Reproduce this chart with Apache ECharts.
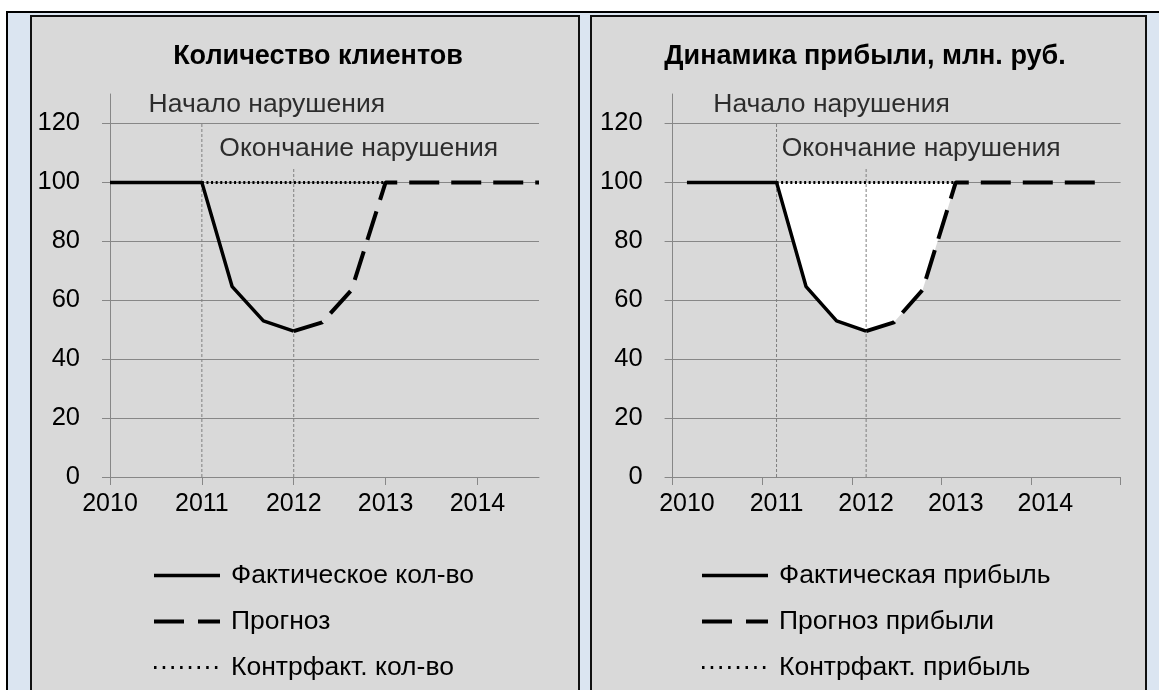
<!DOCTYPE html>
<html><head><meta charset="utf-8">
<script src="https://cdn.jsdelivr.net/npm/echarts@6/dist/echarts.min.js"></script>
<style>html,body{margin:0;padding:0;background:#fff}#c{width:1159px;height:690px}</style>
</head><body><div id="c"></div>
<script>
// ---- data ----
const titles = ['Количество клиентов', 'Динамика прибыли, млн. руб.'];
const yTicks = [0, 20, 40, 60, 80, 100, 120];
const xTickLabels = [2010, 2011, 2012, 2013, 2014];
const actualX = [2010, 2011, 2011.33, 2011.67, 2012];
const actualY = [100, 100, 64.6, 53, 49.5];
const forecastX = [2012, 2012.31, 2012.63, 2013, 2014.67];
const forecastY = [49.5, 52.5, 63.5, 100, 100];
const counterX = [2011, 2013];
const counterY = [100, 100];
const markerX = [2011, 2012];
const markerTop = [120, 105];
const markerLabels = ['Начало нарушения', 'Окончание нарушения'];
const legendLeft = ['Фактическое кол-во', 'Прогноз', 'Контрфакт. кол-во'];
const legendRight = ['Фактическая прибыль', 'Прогноз прибыли', 'Контрфакт. прибыль'];

// ---- helpers ----
const FONT = "'Liberation Sans', Arial, sans-serif";
const GRID_C = '#878787';
const NONE = 'rgba(0,0,0,0)';
const zip = (xs, ys) => xs.map((x, i) => [x, ys[i]]);
const actualPts = zip(actualX, actualY);
const forecastPts = zip(forecastX, forecastY);
const counterPts = zip(counterX, counterY);
const gapPts = actualPts.filter(p => p[0] >= counterX[0])
  .concat(forecastPts.filter(p => p[0] > actualX[actualX.length - 1] && p[0] <= counterX[1]));

const rightShift = 0.16; // right chart ticks sit between labels
const xAxisCfg = [
  { min: 2010, max: 2014.67, ticks: xTickLabels },
  { min: 2010 - rightShift, max: 2015 - rightShift,
    ticks: xTickLabels.map(v => +(v - rightShift).toFixed(2)).concat([+(2015 - rightShift).toFixed(2)]) }
];
const gridsPos = [
  { left: 110, top: 94, width: 429, height: 383 },
  { left: 672.6, top: 94, width: 448, height: 383 }
];
const labelOffsetX = [65, 55];
const legendPos = [152, 700];
const titleX = [318, 865];

const chart = echarts.init(document.getElementById('c'), null, { renderer: 'canvas' });

const grids = [], xAxes = [], yAxes = [], series = [], legends = [], titleArr = [];
[0, 1].forEach(i => {
  grids.push(Object.assign({ containLabel: false, outerBoundsMode: 'none' }, gridsPos[i]));
  xAxes.push({
    type: 'value', gridIndex: i, min: xAxisCfg[i].min, max: xAxisCfg[i].max,
    axisLine: { show: true, onZero: false, lineStyle: { color: GRID_C, width: 1 } },
    axisTick: { show: true, length: 8, lineStyle: { color: GRID_C }, customValues: xAxisCfg[i].ticks },
    axisLabel: { customValues: xTickLabels, formatter: v => String(v), color: '#000',
      fontSize: 25, fontFamily: FONT, margin: 15 },
    splitLine: { show: false }
  });
  yAxes.push({
    type: 'value', gridIndex: i, min: 0, max: 130,
    axisLine: { show: true, lineStyle: { color: GRID_C, width: 1 } },
    axisTick: { show: true, length: 8, lineStyle: { color: GRID_C }, customValues: yTicks },
    axisLabel: { customValues: yTicks, color: '#000', fontSize: 25.5, fontFamily: FONT, margin: 30 },
    splitLine: { show: true, lineStyle: { color: GRID_C, width: 1 } }
  });
  const names = i === 0 ? legendLeft : legendRight;
  if (i === 1) {
    series.push({
      type: 'line', xAxisIndex: i, yAxisIndex: i, data: gapPts, symbol: 'none', silent: true,
      lineStyle: { width: 0, opacity: 0 },
      areaStyle: { color: '#ffffff', opacity: 1, origin: counterY[0] }, z: 2
    });
  }
  markerX.forEach((mx, k) => {
    series.push({
      type: 'line', xAxisIndex: i, yAxisIndex: i, data: [[mx, 0], [mx, markerTop[k]]],
      symbol: 'none', silent: true, z: 3,
      lineStyle: { color: '#7f7f7f', width: 1, type: [3, 2] }
    });
    series.push({
      type: 'scatter', xAxisIndex: i, yAxisIndex: i, data: [[mx, markerTop[k]]],
      symbolSize: 0, silent: true, z: 6,
      label: { show: true, position: 'top', distance: 4, offset: [labelOffsetX[i], -1],
        formatter: markerLabels[k], color: '#000', fontSize: 26.5, fontFamily: FONT }
    });
  });
  series.push({
    name: names[2], type: 'line', xAxisIndex: i, yAxisIndex: i, data: counterPts,
    symbol: 'none', z: 4, itemStyle: { color: NONE },
    lineStyle: { color: '#000', width: 3, type: [2, 2.6] }
  });
  series.push({
    name: names[0], type: 'line', xAxisIndex: i, yAxisIndex: i, data: actualPts,
    symbol: 'none', z: 5, itemStyle: { color: NONE },
    lineStyle: { color: '#000', width: 3.5, type: 'solid' }
  });
  series.push({
    name: names[1], type: 'line', xAxisIndex: i, yAxisIndex: i, data: forecastPts,
    symbol: 'none', z: 5, itemStyle: { color: NONE },
    lineStyle: { color: '#000', width: 4, type: [30, 12] }
  });
  legends.push({
    orient: 'vertical', left: legendPos[i], top: 562, itemWidth: 66, itemHeight: 26, itemGap: 19,
    selectedMode: false, padding: 0,
    itemStyle: { color: NONE, borderWidth: 0, opacity: 0 },
    textStyle: { fontSize: 26.5, fontFamily: FONT, color: '#000', lineHeight: 26, padding: [0, 0, 0, 6] },
    data: [
      { name: names[0], lineStyle: { width: 3.5, type: 'solid', color: '#000' } },
      { name: names[1], lineStyle: { width: 4, type: [30, 14], color: '#000' } },
      { name: names[2], lineStyle: { width: 3, type: [2.5, 6.2], color: '#000' } }
    ]
  });
  titleArr.push({
    text: titles[i], left: titleX[i], top: 42, textAlign: 'center', padding: 0,
    textStyle: { fontSize: 27, fontWeight: 'bold', fontFamily: FONT, color: '#000', lineHeight: 30 }
  });
});

chart.setOption({
  animation: false,
  backgroundColor: '#ffffff',
  graphic: [
    { type: 'rect', silent: true, z: -100, shape: { x: 7, y: 12, width: 1200, height: 700 },
      style: { fill: '#dbe5f1', stroke: '#000', lineWidth: 2 } },
    { type: 'rect', silent: true, z: -99, shape: { x: 31, y: 16, width: 548, height: 700 },
      style: { fill: '#d9d9d9', stroke: '#111', lineWidth: 2 } },
    { type: 'rect', silent: true, z: -99, shape: { x: 591, y: 16, width: 555, height: 700 },
      style: { fill: '#d9d9d9', stroke: '#111', lineWidth: 2 } }
  ],
  title: titleArr,
  legend: legends,
  grid: grids,
  xAxis: xAxes,
  yAxis: yAxes,
  series: series
});
</script></body></html>
